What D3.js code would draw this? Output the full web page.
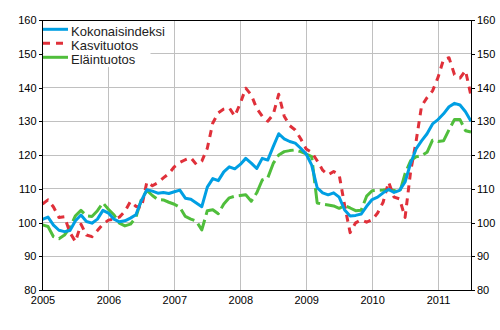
<!DOCTYPE html>
<html>
<head>
<meta charset="utf-8">
<script src="https://cdn.jsdelivr.net/npm/d3@7"></script>
<style>
  body { margin: 0; background: #fff; }
  svg { display: block; font-family: Arial, "Liberation Sans", sans-serif; }
</style>
</head>
<body>
<svg id="chart" width="500" height="330"></svg>
<script>
// Producer price index of agriculture, monthly
const yearLabels = ["2005", "2006", "2007", "2008", "2009", "2010", "2011"];
const yTicks = [80, 90, 100, 110, 120, 130, 140, 150, 160];
const seriesNames = ["Kokonaisindeksi", "Kasvituotos", "Eläintuotos"];
const firstYear = 2005;

// Monthly values, Jan 2005 .. Jul 2011
const kokonaisindeksi = [
  100.9, 101.6, 99.2, 97.7, 97.3, 97.6, 100.5, 102.2, 100.3, 99.8, 101.0, 103.6,
  102.8, 101.0, 100.2, 100.5, 101.3, 102.3, 106.5, 109.7, 109.3, 108.7, 108.9, 108.6,
  109.1, 109.6, 107.2, 106.9, 105.8, 104.7, 110.5, 113.0, 112.4, 115.0, 116.5, 115.9,
  117.2, 119.0, 117.6, 116.0, 119.0, 118.5, 122.5, 126.3, 124.8, 124.0, 123.5, 122.0,
  120.3, 117.0, 110.3, 108.8, 108.2, 108.8, 107.5, 103.7, 101.9, 102.1, 102.5, 104.8,
  106.8, 107.5, 108.8, 109.8, 108.9, 109.5, 112.0, 117.5, 121.8, 124.2, 126.3, 129.2,
  130.5, 132.2, 134.3, 135.3, 134.8, 132.8, 130.0
];
const kasvituotos = [
  105.5, 106.7, 104.6, 101.5, 101.7, 97.0, 94.3, 99.5, 96.3, 95.8, 97.6, 99.5,
  100.7, 101.0, 101.6, 103.3, 106.2, 104.8, 104.3, 112.0, 110.9, 111.8, 113.2, 114.5,
  116.5, 117.8, 118.6, 119.2, 117.2, 118.2, 122.0, 129.5, 132.5, 133.6, 134.0, 131.5,
  135.3, 139.8, 137.8, 133.8, 131.5, 130.0, 132.0, 138.0, 131.5, 128.7, 127.4, 124.8,
  121.8, 120.8, 118.3, 115.5, 114.1, 115.1, 114.2, 105.0, 97.0, 99.9, 100.8, 100.1,
  100.8, 102.8, 106.0, 112.0, 107.5, 107.0, 101.5, 115.0, 124.0, 134.5, 137.0, 139.0,
  143.0, 148.3, 148.8, 143.8, 142.8, 145.0, 137.5
];
const elaintuotos = [
  99.3, 98.8, 95.8, 95.2, 96.3, 98.5, 102.0, 103.6, 102.0, 101.8, 103.5, 105.8,
  103.9, 102.3, 99.8, 99.0, 99.5, 101.5, 106.8, 109.5, 108.0, 106.8, 106.7, 106.0,
  105.4, 104.5, 101.8, 101.0, 100.4, 97.8, 103.5, 103.8, 102.6, 105.5, 107.3, 107.8,
  108.0, 108.2, 106.3, 108.8, 112.6, 113.2, 117.5, 120.0, 121.0, 121.3, 121.5, 121.0,
  120.3, 119.5, 105.8, 105.4, 105.2, 104.9, 104.2, 105.0, 104.3, 103.5, 103.6, 107.8,
  109.4, 109.5, 109.6, 109.8, 109.5, 108.8, 114.5, 118.3, 119.5, 119.8, 120.8, 124.4,
  124.0, 124.2, 127.5, 130.5, 130.5, 127.2, 126.8
];

const colors = { blue: "#009fe3", red: "#e0303a", green: "#50be3c" };

const svg = d3.select("#chart");
const plotLeft = 42.5, plotRight = 471, plotTop = 20, plotBottom = 290;

const x = d3.scaleLinear().domain([2005, 2011.5]).range([plotLeft, plotRight]);
const y = d3.scaleLinear().domain([80, 160]).range([plotBottom, plotTop]);

const yearValues = yearLabels.map(Number);

// Grid
const grid = svg.append("g").attr("shape-rendering", "crispEdges")
  .attr("stroke", "#c0c0c0").attr("stroke-width", 1);
grid.selectAll("line.gy").data(yTicks.slice(1, -1)).join("line")
  .attr("class", "gy")
  .attr("x1", plotLeft).attr("x2", plotRight)
  .attr("y1", d => y(d)).attr("y2", d => y(d));
grid.selectAll("line.gx").data(yearValues.slice(1)).join("line")
  .attr("class", "gx")
  .attr("x1", d => x(d)).attr("x2", d => x(d))
  .attr("y1", plotTop).attr("y2", plotBottom);

// Series
const toPoints = arr => arr.map((v, i) => ({ t: firstYear + i / 12, v }));
const line = d3.line().x(d => x(d.t)).y(d => y(d.v));

const series = [
  { name: seriesNames[2], values: elaintuotos, color: colors.green, dash: "18,5" },
  { name: seriesNames[1], values: kasvituotos, color: colors.red, dash: "7,6" },
  { name: seriesNames[0], values: kokonaisindeksi, color: colors.blue, dash: null }
];

svg.append("g").selectAll("path").data(series).join("path")
  .attr("d", d => line(toPoints(d.values)))
  .attr("fill", "none")
  .attr("stroke", d => d.color)
  .attr("stroke-width", 3)
  .attr("stroke-linejoin", "round")
  .attr("stroke-dasharray", d => d.dash);

// Axes
const fontSize = 11;
const yLeft = svg.append("g").attr("transform", `translate(${plotLeft},0)`)
  .call(d3.axisLeft(y).tickValues(yTicks).tickSize(4).tickPadding(2));
const yRight = svg.append("g").attr("transform", `translate(${plotRight},0)`)
  .call(d3.axisRight(y).tickValues(yTicks).tickSize(4).tickPadding(2));
const xAxis = svg.append("g").attr("transform", `translate(0,${plotBottom})`)
  .call(d3.axisBottom(x).tickValues(yearValues).tickFormat((d, i) => yearLabels[i])
    .tickSize(0).tickPadding(6));

[yLeft, yRight, xAxis].forEach(g => {
  g.select(".domain").remove();
  g.selectAll("line").attr("stroke", "#000").attr("shape-rendering", "crispEdges");
  g.selectAll("text").attr("fill", "#000").attr("font-size", fontSize)
    .attr("font-family", "Arial, 'Liberation Sans', sans-serif");
});

// Frame
svg.append("rect")
  .attr("x", plotLeft).attr("y", plotTop)
  .attr("width", plotRight - plotLeft).attr("height", plotBottom - plotTop)
  .attr("fill", "none").attr("stroke", "#000").attr("stroke-width", 1)
  .attr("shape-rendering", "crispEdges");

// Legend
const legend = svg.append("g");
legend.append("rect")
  .attr("x", plotLeft + 1).attr("y", plotTop + 1).attr("width", 107).attr("height", 46)
  .attr("fill", "#fff");
const legendItems = [
  { name: seriesNames[0], color: colors.blue, dash: null },
  { name: seriesNames[1], color: colors.red, dash: "7,6" },
  { name: seriesNames[2], color: colors.green, dash: null }
];
const rows = legend.selectAll("g.item").data(legendItems).join("g")
  .attr("class", "item")
  .attr("transform", (d, i) => `translate(0,${36 + i * 14})`);
rows.append("line")
  .attr("x1", 43).attr("x2", 68).attr("y1", -6.7).attr("y2", -6.7)
  .attr("stroke", d => d.color).attr("stroke-width", 3)
  .attr("stroke-dasharray", d => d.dash);
rows.append("text")
  .attr("x", 71).attr("y", 0)
  .attr("font-size", 13).attr("fill", "#222")
  .text(d => d.name);
</script>
</body>
</html>
